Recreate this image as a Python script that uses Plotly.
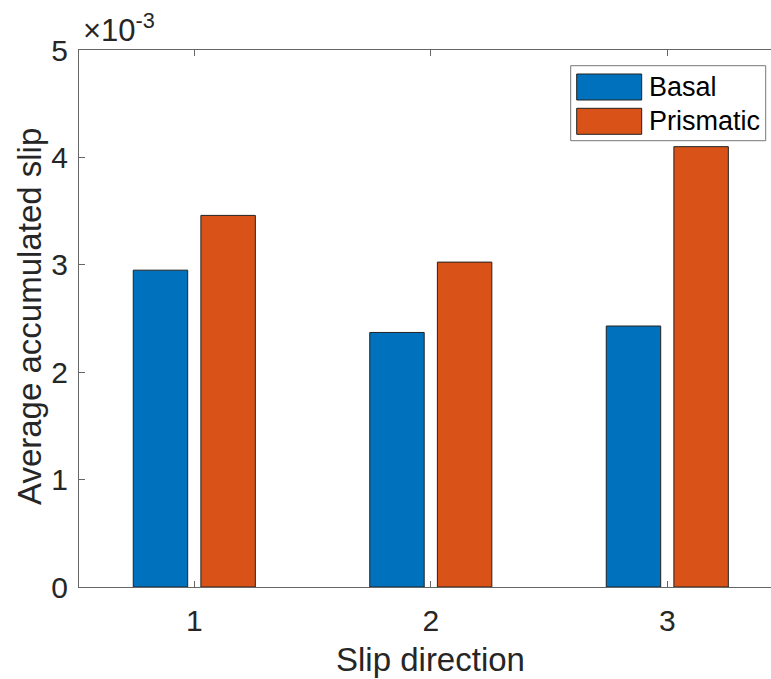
import plotly.graph_objects as go

# ---- data ----
categories = [1, 2, 3]
series_names = ["Basal", "Prismatic"]
basal = [2.95e-3, 2.37e-3, 2.43e-3]
prismatic = [3.46e-3, 3.025e-3, 4.10e-3]
y_tick_vals = [0, 1e-3, 2e-3, 3e-3, 4e-3, 5e-3]
y_tick_text = ["0", "1", "2", "3", "4", "5"]
x_tick_text = ["1", "2", "3"]
x_label = "Slip direction"
y_label = "Average accumulated slip"
exponent_label = "×10<sup>-3</sup>"

colors = ["#0072BD", "#D95319"]
FONT = "Liberation Sans, Arial, Helvetica, sans-serif"
TXT = "#262626"
W, H = 771, 679
L, T, B, R = 79, 50, 92, 0
PW, PH = W - L - R, H - T - B

def px_x(p):
    return (p - L) / PW

def px_y(p):
    return (T + PH - p) / PH

fig = go.Figure()
for name, vals, col in zip(series_names, [basal, prismatic], colors):
    fig.add_trace(go.Bar(
        x=categories, y=vals, name=name,
        marker=dict(color=col, line=dict(color="#222222", width=1)),
        showlegend=False,
    ))

fig.update_layout(
    width=W, height=H,
    margin=dict(l=L, r=R, t=T, b=B, pad=0),
    paper_bgcolor="white", plot_bgcolor="white",
    barmode="group", bargap=0.428, bargroupgap=0.195,
    font=dict(family=FONT, size=30, color=TXT),
)
fig.update_xaxes(
    range=[0.5125, 3.4385],
    tickvals=categories, ticktext=x_tick_text,
    ticks="inside", ticklen=6, tickcolor="#666666", tickwidth=1,
    showline=True, linecolor="#666666", linewidth=1, mirror="ticks",
    showgrid=False, zeroline=False,
    tickfont=dict(size=30, color=TXT, family=FONT),
    ticklabelstandoff=7,
)
fig.update_yaxes(
    range=[0, 5e-3],
    tickvals=y_tick_vals, ticktext=y_tick_text,
    ticks="inside", ticklen=6, tickcolor="#666666", tickwidth=1,
    showline=True, linecolor="#666666", linewidth=1, mirror=False,
    showgrid=False, zeroline=False,
    tickfont=dict(size=30, color=TXT, family=FONT),
    ticklabelstandoff=4,
)

# axis titles
fig.add_annotation(text=x_label, x=2, xref="x", y=px_y(659), yref="paper",
                   xanchor="center", yanchor="middle", showarrow=False,
                   font=dict(size=33, color=TXT, family=FONT))
fig.add_annotation(text=y_label, x=px_x(29), xref="paper", y=px_y(317), yref="paper",
                   xanchor="center", yanchor="middle", textangle=-90, showarrow=False,
                   font=dict(size=33, color=TXT, family=FONT))
# exponent label
fig.add_annotation(text=exponent_label, x=px_x(81), xref="paper", y=px_y(50), yref="paper",
                   xanchor="left", yanchor="bottom", showarrow=False,
                   font=dict(size=31, color=TXT, family=FONT))

# legend (custom, MATLAB-like large swatches)
fig.add_shape(type="rect", xref="paper", yref="paper",
              x0=px_x(570.7), x1=px_x(765.7), y0=px_y(140.7), y1=px_y(65.7),
              line=dict(color="#777777", width=1), fillcolor="white", layer="above")
sw_rows = [(74, 100), (108.3, 134.3)]
for (top, bot), name, col in zip(sw_rows, series_names, colors):
    fig.add_shape(type="rect", xref="paper", yref="paper",
                  x0=px_x(576.7), x1=px_x(641.7), y0=px_y(bot), y1=px_y(top),
                  line=dict(color="#222222", width=1), fillcolor=col, layer="above")
    fig.add_annotation(text=name, x=px_x(646.5), xref="paper", y=px_y((top + bot) / 2),
                       yref="paper", xanchor="left", yanchor="middle", showarrow=False,
                       font=dict(size=27, color="#000000", family=FONT))

fig.write_html("out.html")
